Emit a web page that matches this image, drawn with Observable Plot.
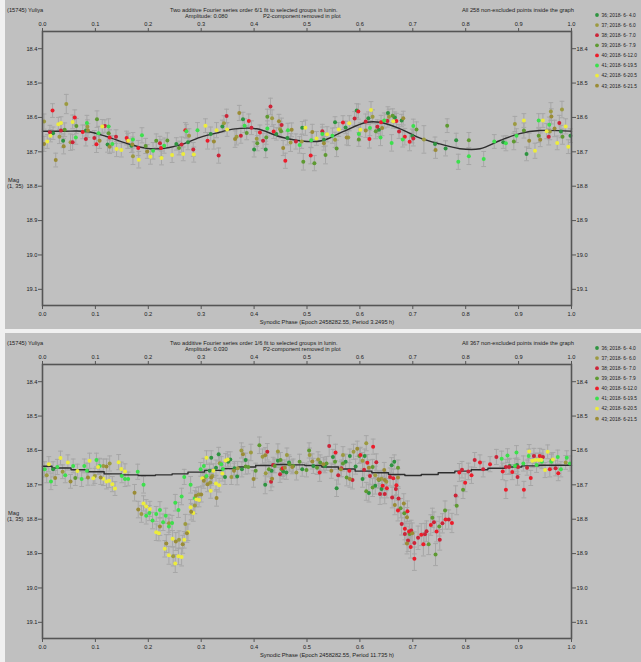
<!DOCTYPE html>
<html><head><meta charset="utf-8">
<script src="https://cdn.jsdelivr.net/npm/d3@7"></script>
<script src="https://cdn.jsdelivr.net/npm/@observablehq/plot@0.6"></script>
<style>
html,body{margin:0;padding:0;background:#f0f0f0;}
#wrap{position:relative;width:641px;height:662px;overflow:hidden;background:#f0f0f0;}
#wrap svg{position:absolute;left:0;}
</style></head><body><div id="wrap"></div>
<script>
// ---------- shared ----------
const groupIds = ["36","37","38","39","40","41","42","43"];
const groupColors = ["#2e9440","#9c9a40","#cc2438","#5e9a32","#ec1c2a","#3ce04c","#ecec3c","#9a8c36"];
const legendLabels = ["36; 2018- 6- 4.0","37; 2018- 6- 6.0","38; 2018- 6- 7.0","39; 2018- 6- 7.9","40; 2018- 6-12.0","41; 2018- 6-19.5","42; 2018- 6-20.5","43; 2018- 6-21.5"];
const xTicks = [0,0.1,0.2,0.3,0.4,0.5,0.6,0.7,0.8,0.9,1.0];
const yTicks = [18.4,18.5,18.6,18.7,18.8,18.9,19.0,19.1];
const yDomain = [18.35,19.147];

// ---------- panel 1 (P = 3.2495 h) : [phase, mag, err] ----------
const p1_36 = [[0.020,18.646,.018],[0.039,18.668,.020],[0.082,18.638,.016],[0.123,18.679,.022],[0.168,18.682,.020],[0.253,18.677,.018],[0.275,18.672,.022],[0.318,18.648,.020],[0.340,18.626,.018],[0.379,18.605,.020],[0.400,18.693,.022],[0.422,18.693,.024],[0.442,18.648,.018],[0.463,18.660,.020],[0.491,18.630,.018],[0.532,18.665,.020],[0.553,18.614,.016],[0.573,18.629,.018],[0.594,18.580,.020],[0.616,18.602,.018],[0.636,18.636,.020],[0.653,18.587,.018],[0.666,18.600,.016],[0.679,18.609,.018],[0.699,18.654,.020],[0.742,18.677,.020],[0.762,18.690,.022],[0.782,18.666,.020],[0.871,18.672,.018],[0.915,18.706,.020],[0.980,18.641,.018],[0.998,18.653,.020]];
const p1_37 = [[0.003,18.612,.022],[0.032,18.656,.020],[0.045,18.561,.028],[0.053,18.672,.024],[0.085,18.627,.020],[0.171,18.713,.024],[0.277,18.653,.020],[0.343,18.617,.022],[0.367,18.656,.024],[0.405,18.662,.022],[0.434,18.602,.024],[0.449,18.634,.022],[0.469,18.673,.026],[0.490,18.670,.020],[0.553,18.665,.022],[0.578,18.658,.024],[0.624,18.598,.020],[0.655,18.598,.022],[0.721,18.664,.040],[0.893,18.619,.022],[0.959,18.641,.024],[0.961,18.583,.026],[0.982,18.577,.024]];
const p1_38 = [[0.014,18.643,.020],[0.035,18.638,.018],[0.057,18.672,.022],[0.082,18.663,.020],[0.098,18.660,.022],[0.118,18.625,.018],[0.139,18.656,.020],[0.161,18.668,.022],[0.222,18.675,.020],[0.263,18.679,.022],[0.285,18.693,.020],[0.333,18.711,.022],[0.348,18.596,.020],[0.375,18.653,.022],[0.395,18.630,.020],[0.417,18.668,.022],[0.431,18.568,.024],[0.452,18.622,.020],[0.479,18.670,.022],[0.529,18.640,.020],[0.590,18.603,.020],[0.611,18.612,.022],[0.633,18.627,.020],[0.652,18.610,.018],[0.674,18.641,.020],[0.701,18.661,.022],[0.957,18.656,.024],[0.977,18.616,.022]];
const p1_39 = [[0.042,18.636,.020],[0.064,18.625,.022],[0.103,18.605,.024],[0.125,18.646,.020],[0.195,18.683,.022],[0.215,18.668,.020],[0.236,18.667,.022],[0.258,18.689,.020],[0.386,18.645,.020],[0.406,18.675,.022],[0.423,18.658,.020],[0.425,18.598,.022],[0.451,18.640,.020],[0.493,18.729,.024],[0.514,18.733,.022],[0.535,18.709,.026],[0.556,18.690,.024],[0.598,18.664,.020],[0.630,18.640,.022],[0.662,18.595,.020],[0.707,18.635,.022],[0.765,18.624,.020],[0.806,18.666,.022],[0.891,18.670,.024],[0.910,18.638,.022],[0.938,18.653,.020],[0.983,18.656,.022]];
const p1_40 = [[0.019,18.580,.020],[0.061,18.600,.022],[0.076,18.642,.020],[0.102,18.678,.024],[0.127,18.658,.022],[0.159,18.660,.020],[0.181,18.689,.022],[0.224,18.689,.024],[0.270,18.637,.022],[0.312,18.668,.024],[0.390,18.610,.020],[0.411,18.644,.022],[0.437,18.641,.020],[0.459,18.726,.022],[0.507,18.711,.024],[0.568,18.615,.020],[0.597,18.583,.022],[0.618,18.663,.026],[0.640,18.614,.020],[0.669,18.610,.022],[0.685,18.656,.024],[0.694,18.671,.026]];
const p1_41 = [[0.063,18.658,.020],[0.084,18.616,.022],[0.106,18.646,.020],[0.125,18.626,.022],[0.132,18.677,.024],[0.171,18.664,.020],[0.188,18.652,.022],[0.209,18.697,.024],[0.230,18.682,.022],[0.272,18.640,.020],[0.293,18.637,.022],[0.382,18.624,.020],[0.425,18.632,.022],[0.464,18.637,.020],[0.486,18.680,.024],[0.508,18.666,.022],[0.529,18.648,.020],[0.548,18.653,.022],[0.598,18.648,.020],[0.619,18.631,.022],[0.639,18.658,.024],[0.646,18.609,.022],[0.660,18.674,.024],[0.681,18.664,.022],[0.701,18.625,.020],[0.786,18.729,.022],[0.806,18.713,.024],[0.834,18.721,.022],[0.854,18.670,.020],[0.876,18.675,.022],[0.896,18.653,.020],[0.938,18.609,.020],[0.958,18.621,.022]];
const p1_42 = [[0.009,18.670,.020],[0.015,18.653,.018],[0.030,18.620,.020],[0.035,18.616,.018],[0.057,18.613,.020],[0.113,18.626,.020],[0.140,18.692,.022],[0.149,18.695,.020],[0.162,18.668,.022],[0.182,18.723,.024],[0.204,18.714,.022],[0.225,18.718,.020],[0.245,18.709,.022],[0.266,18.706,.020],[0.286,18.708,.022],[0.308,18.624,.020],[0.329,18.637,.022],[0.349,18.635,.020],[0.497,18.630,.022],[0.518,18.661,.020],[0.538,18.649,.022],[0.560,18.635,.020],[0.580,18.617,.022],[0.601,18.636,.020],[0.621,18.578,.024],[0.663,18.611,.020],[0.910,18.609,.020],[0.931,18.697,.022],[0.946,18.609,.020],[0.953,18.640,.022],[0.973,18.674,.020],[0.989,18.626,.022],[0.994,18.685,.020]];
const p1_43 = [[0.003,18.677,.022],[0.025,18.724,.020],[0.040,18.684,.022],[0.086,18.638,.020],[0.108,18.668,.022],[0.127,18.685,.020],[0.170,18.679,.022],[0.198,18.699,.020],[0.324,18.670,.022],[0.364,18.663,.024],[0.372,18.587,.022],[0.447,18.611,.020],[0.455,18.689,.022],[0.471,18.636,.020],[0.510,18.642,.022],[0.532,18.675,.020],[0.575,18.658,.022],[0.611,18.638,.020],[0.642,18.631,.022],[0.682,18.602,.020],[0.743,18.695,.024],[0.920,18.668,.022],[0.941,18.665,.020],[0.962,18.597,.022],[0.968,18.632,.024]];
const fit1Phase = [0,0.04,0.084,0.12,0.16,0.197,0.23,0.26,0.298,0.335,0.36,0.405,0.449,0.5,0.53,0.568,0.613,0.638,0.676,0.714,0.751,0.789,0.827,0.865,0.902,0.94,1.0];
const fit1Mag = [18.640,18.640,18.641,18.655,18.676,18.690,18.690,18.680,18.658,18.643,18.634,18.633,18.656,18.670,18.667,18.641,18.614,18.614,18.633,18.660,18.677,18.691,18.691,18.667,18.647,18.638,18.640];

// ---------- panel 2 (P = 11.735 h) : [phase, mag, err] ----------
const p2_36 = [[0.020,18.655,.022],[0.316,18.659,.022],[0.319,18.621,.020],[0.328,18.650,.022],[0.333,18.611,.020],[0.345,18.677,.022],[0.351,18.633,.020],[0.355,18.626,.022],[0.363,18.652,.020],[0.368,18.676,.024],[0.377,18.655,.022],[0.384,18.628,.020],[0.421,18.700,.026],[0.433,18.659,.022],[0.445,18.630,.020],[0.455,18.661,.022],[0.461,18.664,.020],[0.466,18.635,.022],[0.491,18.655,.020],[0.512,18.645,.022],[0.534,18.645,.020],[0.549,18.619,.022],[0.556,18.710,.024],[0.573,18.633,.022],[0.581,18.616,.020],[0.592,18.647,.022],[0.605,18.683,.024],[0.609,18.616,.020],[0.617,18.724,.026],[0.629,18.703,.024],[0.641,18.712,.026],[0.660,18.643,.022],[0.665,18.633,.020],[0.883,18.645,.022],[0.897,18.642,.020]];
const p2_37 = [[0.008,18.672,.022],[0.038,18.662,.020],[0.099,18.674,.022],[0.115,18.645,.020],[0.127,18.638,.022],[0.187,18.785,.024],[0.239,18.812,.026],[0.247,18.908,.028],[0.258,18.860,.026],[0.270,18.814,.028],[0.288,18.760,.024],[0.295,18.728,.022],[0.307,18.679,.022],[0.317,18.693,.024],[0.321,18.674,.022],[0.335,18.637,.020],[0.357,18.677,.022],[0.369,18.652,.020],[0.376,18.600,.022],[0.394,18.606,.024],[0.416,18.618,.022],[0.422,18.666,.026],[0.445,18.603,.022],[0.462,18.613,.020],[0.480,18.664,.022],[0.505,18.613,.020],[0.521,18.626,.022],[0.568,18.613,.024],[0.588,18.604,.022],[0.605,18.630,.024],[0.612,18.579,.022],[0.629,18.672,.026],[0.641,18.682,.024],[0.650,18.691,.026],[0.962,18.629,.022],[0.989,18.635,.020]];
const p2_38 = [[0.425,18.604,.024],[0.432,18.691,.026],[0.436,18.642,.022],[0.449,18.669,.024],[0.542,18.587,.030],[0.559,18.672,.026],[0.565,18.652,.024],[0.586,18.686,.026],[0.608,18.656,.024],[0.619,18.674,.026],[0.631,18.634,.024],[0.638,18.727,.030],[0.647,18.727,.028],[0.657,18.677,.026],[0.661,18.737,.030],[0.668,18.712,.028],[0.673,18.740,.030],[0.679,18.814,.032],[0.685,18.843,.030],[0.691,18.862,.032],[0.697,18.833,.030],[0.703,18.869,.032],[0.710,18.854,.034],[0.723,18.844,.032],[0.726,18.835,.030],[0.740,18.809,.030],[0.751,18.860,.030],[0.756,18.812,.028],[0.768,18.801,.028],[0.781,18.731,.028],[0.793,18.656,.024],[0.805,18.661,.024],[0.817,18.628,.022],[0.833,18.655,.022],[0.858,18.619,.022],[0.876,18.648,.022],[0.882,18.648,.022],[0.898,18.677,.024],[0.899,18.648,.022],[0.916,18.650,.022],[0.929,18.616,.022],[0.946,18.619,.022],[0.970,18.652,.022]];
const p2_39 = [[0.062,18.680,.022],[0.384,18.647,.022],[0.389,18.648,.020],[0.403,18.659,.022],[0.410,18.585,.024],[0.428,18.655,.022],[0.439,18.645,.020],[0.450,18.628,.022],[0.452,18.655,.020],[0.467,18.640,.022],[0.474,18.645,.020],[0.486,18.633,.022],[0.499,18.657,.020],[0.504,18.600,.022],[0.519,18.650,.020],[0.525,18.635,.022],[0.537,18.638,.020],[0.553,18.633,.022],[0.568,18.638,.022],[0.575,18.679,.024],[0.599,18.616,.022],[0.612,18.719,.026],[0.624,18.648,.022],[0.624,18.708,.026],[0.636,18.686,.024],[0.672,18.650,.022],[0.677,18.768,.028],[0.684,18.783,.028],[0.694,18.843,.030],[0.730,18.873,.030],[0.737,18.796,.028],[0.743,18.903,.032],[0.750,18.821,.028],[0.761,18.775,.028],[0.783,18.761,.026],[0.795,18.714,.026]];
const p2_40 = [[0.454,18.652,.024],[0.524,18.664,.026],[0.554,18.606,.024],[0.580,18.659,.024],[0.601,18.613,.022],[0.614,18.636,.024],[0.625,18.589,.022],[0.643,18.703,.028],[0.651,18.710,.028],[0.663,18.681,.026],[0.669,18.701,.028],[0.672,18.775,.030],[0.685,18.828,.032],[0.690,18.777,.030],[0.693,18.836,.030],[0.696,18.881,.032],[0.703,18.915,.034],[0.716,18.845,.032],[0.720,18.873,.034],[0.734,18.817,.030],[0.745,18.836,.030],[0.762,18.801,.028],[0.774,18.811,.028],[0.788,18.664,.026],[0.799,18.694,.026],[0.811,18.672,.024],[0.827,18.635,.022],[0.846,18.640,.022],[0.870,18.661,.024],[0.876,18.714,.026],[0.888,18.663,.022],[0.910,18.714,.024],[0.923,18.680,.022],[0.940,18.616,.022],[0.959,18.655,.022],[0.975,18.666,.022]];
const p2_41 = [[0.004,18.655,.022],[0.016,18.690,.024],[0.028,18.648,.022],[0.043,18.672,.022],[0.058,18.645,.020],[0.074,18.683,.022],[0.079,18.645,.020],[0.084,18.659,.022],[0.102,18.628,.020],[0.108,18.645,.022],[0.150,18.674,.020],[0.156,18.683,.022],[0.162,18.683,.020],[0.180,18.662,.022],[0.191,18.700,.024],[0.196,18.790,.024],[0.202,18.782,.022],[0.208,18.804,.024],[0.215,18.785,.022],[0.222,18.773,.024],[0.228,18.809,.024],[0.233,18.790,.022],[0.239,18.821,.024],[0.245,18.811,.022],[0.251,18.752,.024],[0.257,18.773,.022],[0.263,18.734,.024],[0.268,18.677,.022],[0.280,18.700,.024],[0.288,18.739,.022],[0.299,18.655,.020],[0.305,18.645,.022],[0.310,18.674,.020],[0.338,18.640,.022],[0.341,18.654,.020],[0.868,18.624,.022],[0.879,18.615,.020],[0.893,18.645,.022],[0.896,18.606,.020],[0.909,18.638,.022],[0.919,18.616,.020],[0.934,18.642,.022],[0.944,18.633,.020],[0.962,18.633,.022],[0.974,18.619,.020],[0.980,18.655,.022],[0.991,18.621,.020],[0.997,18.638,.022]];
const p2_42 = [[0.012,18.640,.022],[0.034,18.622,.020],[0.048,18.635,.022],[0.066,18.660,.020],[0.089,18.630,.022],[0.096,18.681,.020],[0.105,18.648,.022],[0.115,18.682,.020],[0.121,18.690,.022],[0.126,18.688,.020],[0.132,18.698,.022],[0.137,18.711,.020],[0.144,18.634,.022],[0.149,18.654,.020],[0.156,18.661,.022],[0.191,18.754,.022],[0.196,18.763,.020],[0.203,18.770,.022],[0.215,18.838,.024],[0.220,18.841,.022],[0.231,18.886,.024],[0.239,18.905,.026],[0.246,18.857,.024],[0.251,18.929,.026],[0.257,18.908,.024],[0.263,18.910,.026],[0.268,18.860,.024],[0.275,18.838,.024],[0.280,18.765,.022],[0.285,18.782,.024],[0.291,18.742,.022],[0.296,18.744,.020],[0.302,18.681,.022],[0.310,18.621,.020],[0.318,18.717,.022],[0.323,18.659,.020],[0.328,18.696,.022],[0.334,18.701,.020],[0.340,18.667,.022],[0.346,18.629,.020],[0.350,18.626,.022],[0.920,18.603,.020],[0.926,18.630,.020],[0.932,18.628,.020],[0.938,18.628,.020],[0.943,18.628,.020],[0.950,18.657,.022],[0.955,18.604,.020],[0.965,18.626,.020]];
const p2_43 = [[0.024,18.680,.022],[0.053,18.690,.020],[0.086,18.679,.022],[0.110,18.679,.020],[0.121,18.647,.022],[0.174,18.723,.024],[0.181,18.772,.024],[0.222,18.821,.026],[0.234,18.871,.026],[0.252,18.865,.026],[0.265,18.873,.026],[0.273,18.841,.026],[0.281,18.778,.024],[0.290,18.732,.024],[0.300,18.728,.022],[0.305,18.688,.022],[0.312,18.698,.022],[0.319,18.679,.022],[0.329,18.738,.024],[0.362,18.659,.022],[0.379,18.611,.022],[0.399,18.683,.024],[0.421,18.614,.022],[0.434,18.682,.024],[0.458,18.650,.022],[0.472,18.648,.020],[0.510,18.632,.022],[0.531,18.640,.020],[0.546,18.659,.022],[0.564,18.655,.022],[0.581,18.683,.024],[0.595,18.595,.022],[0.617,18.650,.022],[0.635,18.684,.024],[0.646,18.657,.022],[0.647,18.686,.024],[0.666,18.759,.028],[0.672,18.679,.026],[0.683,18.754,.028],[0.689,18.794,.028],[0.689,18.871,.030],[0.699,18.841,.030]];
const fit2Phase = [0,0.036,0.072,0.10,0.133,0.165,0.197,0.23,0.26,0.29,0.323,0.355,0.386,0.42,0.45,0.48,0.512,0.544,0.575,0.607,0.638,0.67,0.70,0.732,0.764,0.795,0.826,0.858,0.89,0.922,0.954,0.977,1.0];
const fit2Mag = [18.646,18.651,18.656,18.662,18.668,18.671,18.673,18.671,18.668,18.663,18.658,18.653,18.648,18.644,18.641,18.642,18.644,18.648,18.654,18.660,18.665,18.670,18.673,18.670,18.665,18.660,18.656,18.652,18.648,18.645,18.643,18.643,18.643];

const panels = [
  {top: 0, groups: [p1_36,p1_37,p1_38,p1_39,p1_40,p1_41,p1_42,p1_43], fitPh: fit1Phase, fitMag: fit1Mag, curve: "catmull-rom",
   title: "Two additive Fourier series order 6/1 fit to selected groups in lunin.", amp: "Amplitude: 0.080",
   count: "All 258 non-excluded points inside the graph", xlabel: "Synodic Phase (Epoch 2458282.55, Period 3.2495 h)"},
  {top: 333, groups: [p2_36,p2_37,p2_38,p2_39,p2_40,p2_41,p2_42,p2_43], fitPh: fit2Phase, fitMag: fit2Mag, curve: "step",
   title: "Two additive Fourier series order 1/6 fit to selected groups in lunin.", amp: "Amplitude: 0.030",
   count: "All 367 non-excluded points inside the graph", xlabel: "Synodic Phase (Epoch 2458282.55, Period 11.735 h)"}
];

const FONT = "'Liberation Sans', Arial, sans-serif";
const wrap = document.getElementById("wrap");

for (const P of panels) {
  const pts = P.groups.flatMap((g, i) => g.map(([ph, mag, err]) => ({ph, mag, err, grp: groupIds[i]})));
  const fit = P.fitPh.map((p, i) => ({ph: p, mag: P.fitMag[i]}));
  const fmt = d3.format(".1f");
  const barColor = "#a6a6a6";
  const cap = 0.0045;
  const svg = Plot.plot({
    width: 641, height: 329,
    marginLeft: 42, marginRight: 70, marginTop: 31, marginBottom: 24,
    style: {background: "transparent", fontFamily: FONT, fontSize: "5.7px", color: "#1c1c1c"},
    x: {domain: [0, 1]},
    y: {domain: yDomain, reverse: true},
    color: {domain: groupIds, range: groupColors},
    marks: [
      Plot.axisX({anchor: "top", ticks: xTicks, tickFormat: fmt, tickSize: 4, tickPadding: 2, label: null, stroke: "#555"}),
      Plot.axisX({anchor: "bottom", ticks: xTicks, tickFormat: fmt, tickSize: 4, tickPadding: 2, label: null, stroke: "#555"}),
      Plot.axisY({anchor: "left", ticks: yTicks, tickFormat: fmt, tickSize: 4, tickPadding: 1, label: null, stroke: "#555"}),
      Plot.axisY({anchor: "right", ticks: yTicks, tickFormat: fmt, tickSize: 4, tickPadding: 1, label: null, stroke: "#555"}),
      Plot.ruleX(pts, {x: "ph", y1: d => d.mag - d.err, y2: d => d.mag + d.err, stroke: barColor, strokeWidth: 1}),
      Plot.link(pts, {x1: d => d.ph - cap, x2: d => d.ph + cap, y1: d => d.mag - d.err, y2: d => d.mag - d.err, stroke: barColor, strokeWidth: 1}),
      Plot.link(pts, {x1: d => d.ph - cap, x2: d => d.ph + cap, y1: d => d.mag + d.err, y2: d => d.mag + d.err, stroke: barColor, strokeWidth: 1}),
      Plot.line(fit, {x: "ph", y: "mag", stroke: "#2e2e2e", strokeWidth: 1.4, curve: P.curve}),
      Plot.dot(pts, {x: "ph", y: "mag", fill: "grp", r: 2.0}),
      Plot.frame({stroke: "#555", strokeWidth: 1.6})
    ]
  });
  svg.style.top = P.top + "px";
  const s = d3.select(svg);
  s.insert("rect", ":first-child").attr("x", 5).attr("y", 0).attr("width", 636).attr("height", 329).attr("fill", "#c0c0c0");
  const ys = svg.scale("y");
  const txt = (x, y, t, anchor = "start", size = "5.7px") => s.append("text").attr("x", x).attr("y", y)
      .attr("text-anchor", anchor).attr("fill", "#1c1c1c").style("font-family", FONT).style("font-size", size).text(t);
  txt(7, 12, "(15745) Yuliya");
  txt(170, 12, P.title);
  txt(185, 18, P.amp);
  txt(263, 18, "P2-component removed in plot");
  txt(462, 12, P.count);
  txt(327, 324, P.xlabel, "middle");
  const y88 = ys.apply(18.8);
  txt(8, y88 - 4, "Mag");
  txt(7, y88 + 2, "(1, 35)");
  groupIds.forEach((g, i) => {
    const cy = 15 + i * 10.1;
    s.append("circle").attr("cx", 597).attr("cy", cy).attr("r", 1.9).attr("fill", groupColors[i]);
    txt(601.5, cy + 1.8, legendLabels[i], "start", "4.85px");
  });
  wrap.appendChild(svg);
}
</script></body></html>
